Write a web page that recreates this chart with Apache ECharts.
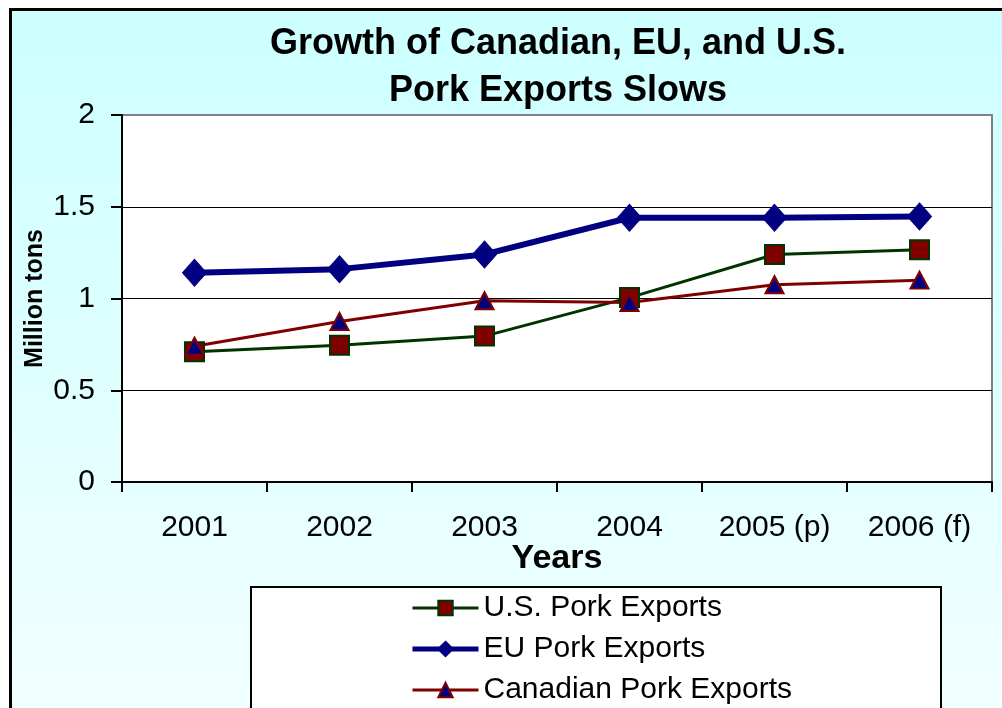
<!DOCTYPE html>
<html>
<head>
<meta charset="utf-8">
<script src="https://cdn.jsdelivr.net/npm/echarts@6/dist/echarts.min.js"></script>
<style>html,body{margin:0;padding:0;background:#fff}#c{width:1002px;height:708px}</style>
</head>
<body>
<div id="c"></div>
<script>
const categories = ['2001', '2002', '2003', '2004', '2005 (p)', '2006 (f)'];
const usExports = [0.71, 0.745, 0.795, 1.005, 1.24, 1.265];
const euExports = [1.14, 1.16, 1.24, 1.44, 1.44, 1.447];
const canadaExports = [0.74, 0.875, 0.988, 0.978, 1.075, 1.10];
const yTicks = [0, 0.5, 1, 1.5, 2];

const FONT = '"Liberation Sans", Arial, sans-serif';
const chart = echarts.init(document.getElementById('c'), null, {renderer: 'canvas'});
chart.setOption({
  animation: false,
  backgroundColor: '#ffffff',
  graphic: [{
    type: 'rect', z: -10, silent: true,
    shape: {x: 10.5, y: 9.5, width: 1010, height: 720},
    style: {
      fill: new echarts.graphic.LinearGradient(0, 0, 0, 1, [
        {offset: 0, color: '#ccffff'}, {offset: 1, color: '#f2ffff'}
      ]),
      stroke: '#000', lineWidth: 3
    }
  }],
  title: {
    text: 'Growth of Canadian, EU, and U.S.\nPork Exports Slows',
    left: 553, top: 16, textAlign: 'center',
    textStyle: {fontFamily: FONT, fontWeight: 'bold', fontSize: 36, lineHeight: 47, color: '#000'}
  },
  grid: {
    left: 122, top: 115, right: 10, bottom: 226, show: true,
    backgroundColor: '#ffffff', borderColor: '#808080', borderWidth: 2
  },
  xAxis: {
    type: 'category', data: categories, boundaryGap: true,
    name: 'Years', nameLocation: 'middle', nameGap: 60, nameMoveOverlap: false,
    nameTextStyle: {fontFamily: FONT, fontWeight: 'bold', fontSize: 34, color: '#000'},
    axisLine: {lineStyle: {color: '#000', width: 2}},
    axisTick: {show: true, interval: 0, length: 10, lineStyle: {color: '#000', width: 2}},
    axisLabel: {interval: 0, hideOverlap: false, margin: 31, fontFamily: FONT, fontSize: 30, color: '#000'}
  },
  yAxis: {
    type: 'value', min: 0, max: 2, interval: 0.5,
    name: 'Million tons', nameLocation: 'middle', nameGap: 74, nameRotate: 90, nameMoveOverlap: false,
    nameTextStyle: {fontFamily: FONT, fontWeight: 'bold', fontSize: 25, color: '#000'},
    axisLine: {show: true, lineStyle: {color: '#000', width: 2}},
    axisTick: {show: true, length: 11, lineStyle: {color: '#000', width: 2}},
    axisLabel: {margin: 27, fontFamily: FONT, fontSize: 30, color: '#000',
      formatter: v => String(yTicks.includes(v) ? v : v)},
    splitLine: {show: true, showMaxLine: false, lineStyle: {color: '#000', width: 1}}
  },
  legend: {
    orient: 'vertical', left: 251, top: 587, height: 400,
    padding: [6, 149, 40, 159],
    backgroundColor: '#ffffff', borderColor: '#000', borderWidth: 2, borderRadius: 0,
    itemWidth: 66, itemHeight: 18, itemGap: 11,
    textStyle: {fontFamily: FONT, fontSize: 30, color: '#000', lineHeight: 30},
    data: [
      {name: 'U.S. Pork Exports', lineStyle: {width: 3}},
      {name: 'EU Pork Exports', lineStyle: {width: 5}},
      {name: 'Canadian Pork Exports', lineStyle: {width: 3}}
    ]
  },
  series: [
    {
      name: 'U.S. Pork Exports', type: 'line', data: usExports,
      symbol: 'rect', symbolSize: 19,
      lineStyle: {color: '#003300', width: 3},
      itemStyle: {color: '#800000', borderColor: '#003300', borderWidth: 2}
    },
    {
      name: 'EU Pork Exports', type: 'line', data: euExports,
      symbol: 'diamond', symbolSize: [24, 27],
      lineStyle: {color: '#000080', width: 6},
      itemStyle: {color: '#000080', borderColor: '#000080', borderWidth: 1}
    },
    {
      name: 'Canadian Pork Exports', type: 'line', data: canadaExports,
      symbol: 'triangle', symbolSize: [18, 17],
      lineStyle: {color: '#800000', width: 3},
      itemStyle: {color: '#000080', borderColor: '#800000', borderWidth: 2}
    }
  ]
});
</script>
</body>
</html>
